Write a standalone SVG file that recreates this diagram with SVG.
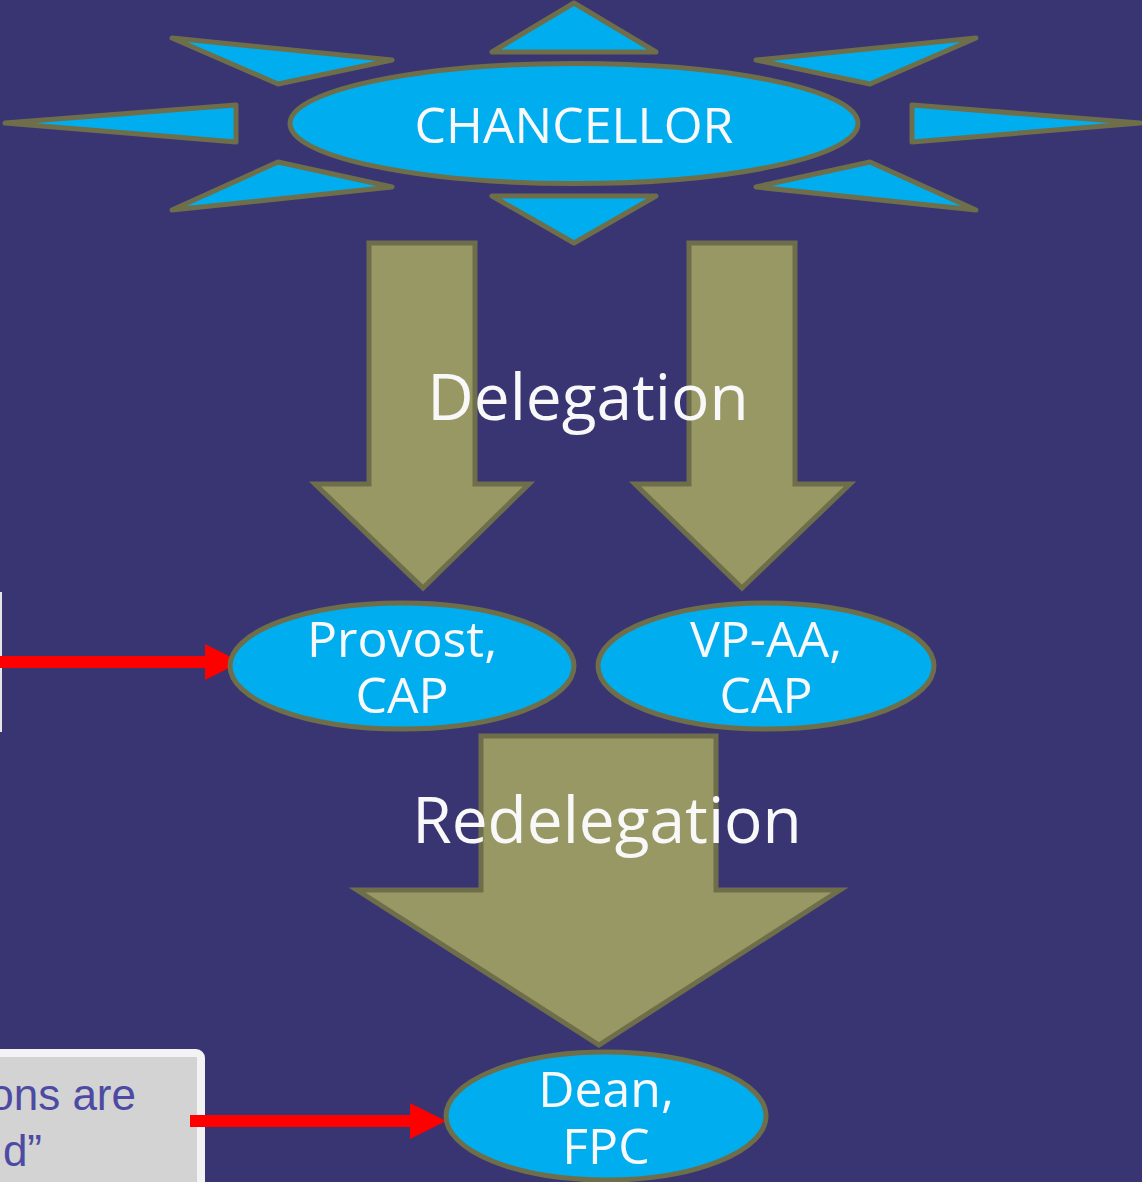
<svg xmlns="http://www.w3.org/2000/svg" width="1142" height="1182" viewBox="0 0 1142 1182">
<style>
.ray{fill:#00aeef;stroke:#6f6e4a;stroke-width:5;stroke-linejoin:round}
.node{fill:#00aeef;stroke:#6f6e4a;stroke-width:5}
.big{fill:#989865;stroke:#6f6e4a;stroke-width:5}
.wt{fill:#f8f8f8;font-family:"Open Sans","Noto Sans","DejaVu Sans",sans-serif;text-anchor:middle}
.red{fill:#ff0000}
.note{fill:#4d4aa3;font-family:"Liberation Sans",Arial,sans-serif;font-size:44px;text-anchor:end}
</style>
<rect x="0" y="0" width="1142" height="1182" fill="#393573"/>

<g id="left-box-edge">
<rect x="-10" y="593" width="11" height="138" fill="none" stroke="#e6e6e6" stroke-width="2"/>
</g>

<g id="note-box">
<rect x="-30" y="1053" width="231" height="200" rx="5" fill="#d3d3d3" stroke="#f3f3f3" stroke-width="8"/>
<text class="note" x="136" y="1110">ons are</text>
<text class="note" x="42" y="1166">d”</text>
</g>

<g id="chancellor">
<polygon class="ray" points="172,38 392,60 278,84"/>
<polygon class="ray" points="5,123 236,105 236,142"/>
<polygon class="ray" points="172,210 278,162 392,187"/>
<polygon class="ray" points="574,3 492,52 656,52"/>
<polygon class="ray" points="574,243 492,196 656,196"/>
<polygon class="ray" points="976,38 870,84 756,60"/>
<polygon class="ray" points="1140,123 912,105 912,142"/>
<polygon class="ray" points="976,210 870,162 756,187"/>
<ellipse class="node" cx="574" cy="123.5" rx="284" ry="60"/>
<text class="wt" x="574" y="143" font-size="50">CHANCELLOR</text>
</g>

<g id="connectors">
<polygon class="big" points="369,243 475,243 475,484 529,484 423,588 315,484 369,484"/>
<polygon class="big" points="689,243 795,243 795,484 850,484 742,588 635,484 689,484"/>
<polygon class="big" points="481,736 716,736 716,890 840,890 599,1045 357,890 481,890"/>
<text class="wt" x="588" y="420" font-size="64">Delegation</text>
<text class="wt" x="607" y="843" font-size="64">Redelegation</text>
<rect class="red" x="0" y="656" width="206" height="12"/>
<polygon class="red" points="205,644 241,662 205,680"/>
<rect class="red" x="190" y="1115" width="221" height="12"/>
<polygon class="red" points="410,1103 446,1121 410,1139"/>
</g>

<g id="provost">
<ellipse class="node" cx="402" cy="666" rx="172" ry="63"/>
<text class="wt" x="402" y="657" font-size="50">Provost,</text>
<text class="wt" x="402" y="713" font-size="50">CAP</text>
</g>

<g id="vp-aa">
<ellipse class="node" cx="766" cy="666" rx="168" ry="63"/>
<text class="wt" x="766" y="657" font-size="50">VP-AA,</text>
<text class="wt" x="766" y="713" font-size="50">CAP</text>
</g>

<g id="dean">
<ellipse class="node" cx="606" cy="1116" rx="160" ry="64"/>
<text class="wt" x="606" y="1107" font-size="50">Dean,</text>
<text class="wt" x="606" y="1164" font-size="50">FPC</text>
</g>
</svg>
